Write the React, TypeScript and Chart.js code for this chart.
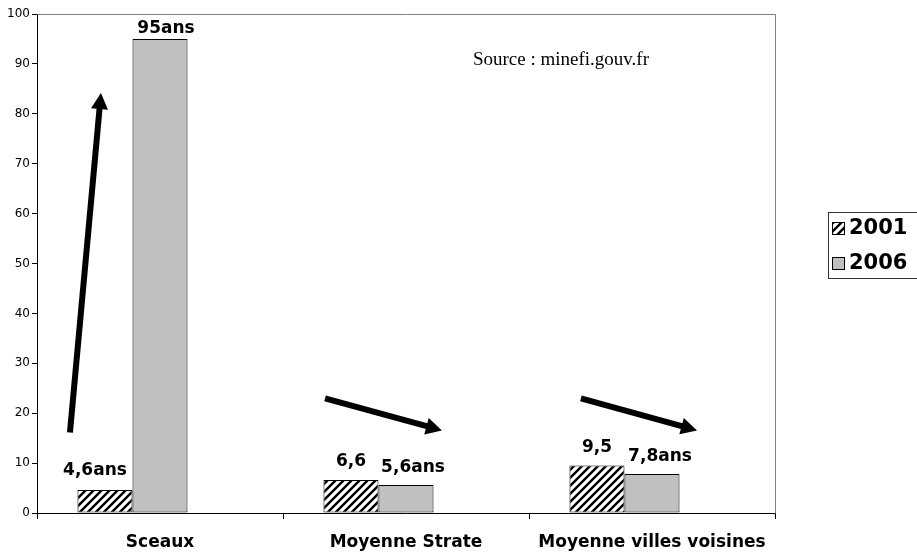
import React, { useEffect, useRef } from "react";
import { Chart, registerables } from "chart.js";

Chart.register(...registerables);

const categories = ["Sceaux", "Moyenne Strate", "Moyenne villes voisines"];
const values2001 = [4.6, 6.6, 9.5];
const values2006 = [95, 5.6, 7.8];
const emptySeries = [null, null, null];
const labels2001 = ["4,6ans", "6,6", "9,5"];
const labels2006 = ["95ans", "5,6ans", "7,8ans"];
const legendLabels = ["2001", "2006"];
const yMin = 0;
const yMax = 100;
const yStep = 10;
// trend arrows, in data space (category index, value)
const arrowTailX = [-0.366, 0.671, 1.711];
const arrowTailY = [16.15, 22.97, 22.97];
const arrowHeadX = [-0.24, 1.146, 2.183];
const arrowHeadY = [84.15, 16.55, 16.55];
const sourceText = "Source : minefi.gouv.fr";
const sourceX = 1.272;
const sourceY = 90.8;

const FONT = "'DejaVu Sans', sans-serif";

function makeHatch(): CanvasPattern | string {
  const c = document.createElement("canvas");
  c.width = 8;
  c.height = 8;
  const g = c.getContext("2d");
  if (!g) return "#fff";
  g.fillStyle = "#fff";
  g.fillRect(0, 0, 8, 8);
  g.strokeStyle = "#000";
  g.lineWidth = 2.4;
  g.beginPath();
  g.moveTo(-2, 10);
  g.lineTo(10, -2);
  g.moveTo(-6, 6);
  g.lineTo(6, -6);
  g.moveTo(2, 14);
  g.lineTo(14, 2);
  g.stroke();
  const p = g.createPattern(c, "repeat");
  return p || "#fff";
}

export default function App() {
  const ref = useRef<HTMLCanvasElement | null>(null);

  useEffect(() => {
    const canvas = ref.current;
    if (!canvas) return;
    const hatch = makeHatch();
    const grey = "#C0C0C0";

    const labelOffsets: Record<number, { dx: number[]; dy: number[] }> = {
      0: { dx: [-10, 0, 0], dy: [15, 14, 14] },
      1: { dx: [6, 7, 8], dy: [6, 13, 13] },
    };
    const labelTexts: Record<number, string[]> = { 0: labels2001, 1: labels2006 };

    const decorPlugin = {
      id: "decor",
      afterDatasetsDraw(chart: any) {
        const ctx = chart.ctx as CanvasRenderingContext2D;
        const area = chart.chartArea;
        const xs = chart.scales.x;
        const ys = chart.scales.y;

        // top and right frame
        ctx.save();
        ctx.strokeStyle = "#808080";
        ctx.lineWidth = 1;
        ctx.beginPath();
        ctx.moveTo(Math.round(area.left) + 0.5, Math.round(area.top) + 0.5);
        ctx.lineTo(Math.round(area.right) + 0.5, Math.round(area.top) + 0.5);
        ctx.lineTo(Math.round(area.right) + 0.5, Math.round(area.bottom) + 0.5);
        ctx.stroke();
        ctx.restore();

        // data labels
        ctx.save();
        ctx.fillStyle = "#000";
        ctx.font = `bold 17px ${FONT}`;
        ctx.textAlign = "center";
        ctx.textBaseline = "alphabetic";
        [0, 1].forEach((di) => {
          const meta = chart.getDatasetMeta(di);
          meta.data.forEach((el: any, i: number) => {
            const off = labelOffsets[di];
            ctx.fillText(labelTexts[di][i], el.x + off.dx[i], el.y - off.dy[i]);
          });
        });
        ctx.restore();

        // arrows
        ctx.save();
        ctx.fillStyle = "#000";
        ctx.strokeStyle = "#000";
        for (let i = 0; i < arrowTailX.length; i++) {
          const x0 = xs.getPixelForValue(arrowTailX[i]);
          const y0 = ys.getPixelForValue(arrowTailY[i]);
          const x1 = xs.getPixelForValue(arrowHeadX[i]);
          const y1 = ys.getPixelForValue(arrowHeadY[i]);
          const ang = Math.atan2(y1 - y0, x1 - x0);
          const headLen = 16;
          const headHalf = 8.5;
          const bx = x1 - headLen * Math.cos(ang);
          const by = y1 - headLen * Math.sin(ang);
          ctx.lineWidth = 6;
          ctx.lineCap = "butt";
          ctx.beginPath();
          ctx.moveTo(x0, y0);
          ctx.lineTo(bx + 2 * Math.cos(ang), by + 2 * Math.sin(ang));
          ctx.stroke();
          ctx.beginPath();
          ctx.moveTo(x1, y1);
          ctx.lineTo(bx + headHalf * Math.sin(ang), by - headHalf * Math.cos(ang));
          ctx.lineTo(bx - headHalf * Math.sin(ang), by + headHalf * Math.cos(ang));
          ctx.closePath();
          ctx.fill();
        }
        ctx.restore();

        // source note
        ctx.save();
        ctx.fillStyle = "#000";
        ctx.font = `19px 'Liberation Serif', 'Times New Roman', serif`;
        ctx.textAlign = "left";
        ctx.textBaseline = "middle";
        ctx.fillText(sourceText, xs.getPixelForValue(sourceX), ys.getPixelForValue(sourceY));
        ctx.restore();

        // legend box
        ctx.save();
        const lx = area.right + 53;
        const ly = 212;
        const lw = 100;
        const lh = 66;
        ctx.strokeStyle = "#333";
        ctx.lineWidth = 1;
        ctx.strokeRect(Math.round(lx) + 0.5, ly + 0.5, lw, lh);
        const fills = [hatch, grey];
        ctx.font = `bold 21px ${FONT}`;
        ctx.textBaseline = "middle";
        ctx.textAlign = "left";
        legendLabels.forEach((t, i) => {
          const cy = ly + 16 + i * 35;
          const sx = Math.round(lx) + 4;
          ctx.fillStyle = fills[i] as any;
          ctx.fillRect(sx, cy - 6, 13, 13);
          ctx.strokeStyle = "#000";
          ctx.strokeRect(sx + 0.5, cy - 6 + 0.5, 12, 12);
          ctx.fillStyle = "#000";
          ctx.fillText(t, sx + 17, cy + 1);
        });
        ctx.restore();
      },
    };

    const chart = new Chart(canvas, {
      type: "bar",
      data: {
        labels: categories,
        datasets: [
          {
            label: legendLabels[0],
            data: values2001,
            backgroundColor: hatch as any,
            borderColor: "#000",
            borderWidth: 1,
            borderSkipped: false,
          },
          {
            label: legendLabels[1],
            data: values2006,
            backgroundColor: grey,
            borderColor: "#000",
            borderWidth: 1,
            borderSkipped: false,
          },
          {
            label: "",
            data: emptySeries as any,
            backgroundColor: "transparent",
          },
        ],
      },
      options: {
        responsive: false,
        animation: false,
        devicePixelRatio: 1,
        layout: { padding: { top: 14, right: 142, left: 0, bottom: 0 } },
        datasets: {
          bar: { categoryPercentage: 0.671, barPercentage: 1.0 },
        },
        plugins: {
          legend: { display: false },
          tooltip: { enabled: false },
          title: { display: false },
        },
        scales: {
          x: {
            offset: true,
            grid: {
              offset: true,
              drawOnChartArea: false,
              drawTicks: true,
              tickLength: 6,
              color: "#000",
            },
            border: { display: true, color: "#000", width: 1 },
            ticks: {
              color: "#000",
              font: { family: FONT, size: 17, weight: "bold" },
              padding: 13,
              maxRotation: 0,
              autoSkip: false,
            },
            afterFit: (s: any) => {
              s.height = 41;
            },
          },
          y: {
            min: yMin,
            max: yMax,
            grid: {
              drawOnChartArea: false,
              drawTicks: true,
              tickLength: 5,
              color: "#000",
            },
            border: { display: true, color: "#000", width: 1 },
            ticks: {
              stepSize: yStep,
              color: "#000",
              font: { family: FONT, size: 12 },
              padding: 2,
            },
            afterFit: (s: any) => {
              s.width = 37;
            },
          },
        },
      },
      plugins: [decorPlugin],
    });
    return () => chart.destroy();
  }, []);

  return (
    <div style={{ position: "absolute", left: 0, top: 0, width: 917, height: 554, background: "#fff" }}>
      <canvas ref={ref} width={917} height={554} style={{ width: 917, height: 554, display: "block" }} />
    </div>
  );
}
